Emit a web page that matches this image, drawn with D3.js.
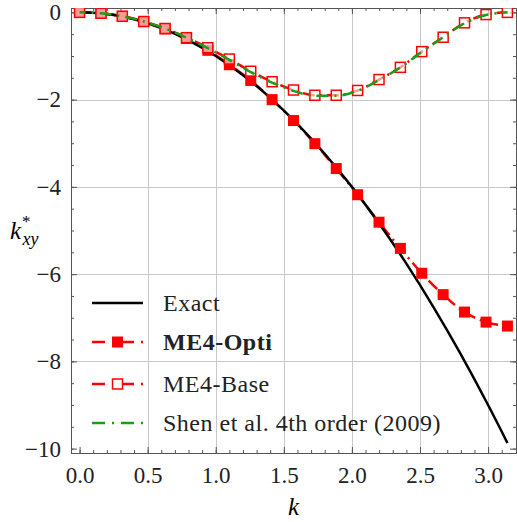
<!DOCTYPE html>
<html>
<head>
<meta charset="utf-8">
<script src="https://cdn.jsdelivr.net/npm/d3@7"></script>
<style>
  body { margin: 0; background: #fff; }
  text { font-family: "Liberation Serif", "Times New Roman", serif; }
</style>
</head>
<body>
<div id="chart"></div>
<script>
// sample wavenumbers (pi/20 steps)
const kPts = [0, 0.157, 0.314, 0.471, 0.628, 0.785, 0.942, 1.100, 1.257, 1.414,
  1.571, 1.728, 1.885, 2.042, 2.199, 2.356, 2.513, 2.670, 2.827, 2.985, 3.142];
const optiVals = [0, -0.02, -0.09, -0.21, -0.38, -0.6, -0.87, -1.2, -1.56, -2.0,
  -2.48, -3.01, -3.58, -4.18, -4.81, -5.41, -5.98, -6.47, -6.87, -7.10, -7.19];
const baseVals = [0, -0.02, -0.09, -0.21, -0.37, -0.58, -0.81, -1.07, -1.35, -1.59,
  -1.78, -1.90, -1.90, -1.79, -1.54, -1.26, -0.90, -0.57, -0.24, -0.05, 0];
const shenVals = [0, -0.02, -0.09, -0.21, -0.37, -0.58, -0.82, -1.09, -1.37, -1.61,
  -1.80, -1.91, -1.91, -1.80, -1.55, -1.26, -0.91, -0.57, -0.25, -0.06, 0];
// exact curve
const kExact = [0, 0.2, 0.4, 0.6, 0.8, 1.0, 1.2, 1.4, 1.6, 1.8, 2.0, 2.2, 2.4, 2.6, 2.8, 3.0, 3.142];
const exactVals = [0, -0.04, -0.16, -0.36, -0.64, -1.0, -1.44, -1.96, -2.56, -3.24,
  -4.0, -4.84, -5.76, -6.76, -7.84, -9.0, -9.87];

const xTicks = [0, 0.5, 1.0, 1.5, 2.0, 2.5, 3.0];
const yTicks = [0, -2, -4, -6, -8, -10];
const legendLabels = ["Exact", "ME4-Opti", "ME4-Base", "Shen et al. 4th order (2009)"];

const width = 517, height = 522;
const pL = 71, pR = 516, pT = 8, pB = 453;
const red = "#ff0000", green = "#1a9e1a";

const x = d3.scaleLinear().domain([-0.063, 3.205]).range([pL, pR]);
const y = d3.scaleLinear().domain([-10.1, 0.1]).range([pB, pT]);

const svg = d3.select("#chart").append("svg")
  .attr("width", width).attr("height", height);

svg.append("clipPath").attr("id", "clip")
  .append("rect").attr("x", pL).attr("y", pT)
  .attr("width", pR - pL).attr("height", pB - pT);

// grid
const grid = svg.append("g").attr("stroke", "#c8c8c8").attr("stroke-width", 1);
grid.selectAll(".gx").data(xTicks.filter(d => d > 0)).join("line")
  .attr("x1", d => Math.round(x(d)) + 0.5).attr("x2", d => Math.round(x(d)) + 0.5)
  .attr("y1", pT).attr("y2", pB);
grid.selectAll(".gy").data(yTicks.filter(d => d < 0 && d > -10)).join("line")
  .attr("y1", d => Math.round(y(d)) + 0.5).attr("y2", d => Math.round(y(d)) + 0.5)
  .attr("x1", pL).attr("x2", pR);

// axes (frame style, ticks inward)
const frameCol = "#555";
const minorX = d3.range(0, 3.15, 0.1);
const minorY = d3.range(0, -10.05, -0.5);
svg.append("g").attr("transform", `translate(0,${pB})`)
  .call(d3.axisBottom(x).tickValues(minorX).tickSize(-3).tickFormat(""));
svg.append("g").attr("transform", `translate(0,${pB})`)
  .call(d3.axisBottom(x).tickValues(xTicks).tickSize(-6).tickPadding(14)
    .tickFormat(d3.format(".1f")));
svg.append("g").attr("transform", `translate(0,${pT})`)
  .call(d3.axisTop(x).tickValues(minorX).tickSize(-3).tickFormat(""));
svg.append("g").attr("transform", `translate(0,${pT})`)
  .call(d3.axisTop(x).tickValues(xTicks).tickSize(-6).tickFormat(""));
svg.append("g").attr("transform", `translate(${pL},0)`)
  .call(d3.axisLeft(y).tickValues(minorY).tickSize(-3).tickFormat(""));
svg.append("g").attr("transform", `translate(${pL},0)`)
  .call(d3.axisLeft(y).tickValues(yTicks).tickSize(-6).tickPadding(10)
    .tickFormat(d => d === 0 ? "0" : "\u2212" + Math.abs(d)));
svg.append("g").attr("transform", `translate(${pR},0)`)
  .call(d3.axisRight(y).tickValues(minorY).tickSize(-3).tickFormat(""));
svg.append("g").attr("transform", `translate(${pR},0)`)
  .call(d3.axisRight(y).tickValues(yTicks).tickSize(-6).tickFormat(""));
svg.selectAll(".domain").attr("stroke", frameCol);
svg.selectAll(".tick line").attr("stroke", frameCol);
svg.selectAll(".tick text").style("font-size", "23px").attr("fill", "#222");

// series
const plot = svg.append("g").attr("clip-path", "url(#clip)");
const lineOf = (ks, vs, curve) => d3.line().curve(curve)
  .x((d, i) => x(ks[i])).y(d => y(d))(vs);
const dashDot = "12,5,2,5";

plot.append("path").attr("d", lineOf(kPts, optiVals, d3.curveMonotoneX))
  .attr("fill", "none").attr("stroke", red).attr("stroke-width", 2.5)
  .attr("stroke-dasharray", dashDot);
plot.append("path").attr("d", lineOf(kPts, baseVals, d3.curveMonotoneX))
  .attr("fill", "none").attr("stroke", red).attr("stroke-width", 2.5)
  .attr("stroke-dasharray", dashDot);
plot.append("path").attr("d", lineOf(kExact, exactVals, d3.curveNatural))
  .attr("fill", "none").attr("stroke", "#000").attr("stroke-width", 2.5);

plot.selectAll(".opti").data(optiVals).join("rect")
  .attr("x", (d, i) => x(kPts[i]) - 5.5).attr("y", d => y(d) - 5.5)
  .attr("width", 11).attr("height", 11).attr("fill", red);
plot.selectAll(".base").data(baseVals).join("rect")
  .attr("x", (d, i) => x(kPts[i]) - 5).attr("y", d => y(d) - 5)
  .attr("width", 10).attr("height", 10).attr("fill", "#fff")
  .attr("fill-opacity", 0.6)
  .attr("stroke", red).attr("stroke-width", 1.5);

plot.append("path").attr("d", lineOf(kPts, shenVals, d3.curveMonotoneX))
  .attr("fill", "none").attr("stroke", green).attr("stroke-width", 2.5)
  .attr("stroke-dasharray", "12,6,2,6").attr("stroke-dashoffset", 6);

// legend
const legY = [303, 342, 384, 423];
const lx0 = 92, lx1 = 143, lmid = 117.5;
const leg = svg.append("g");
leg.append("line").attr("x1", lx0).attr("x2", lx1).attr("y1", legY[0]).attr("y2", legY[0])
  .attr("stroke", "#000").attr("stroke-width", 2.5);
[1, 2].forEach(j => {
  leg.append("line").attr("x1", lx0).attr("x2", lx1).attr("y1", legY[j]).attr("y2", legY[j])
    .attr("stroke", red).attr("stroke-width", 2.5).attr("stroke-dasharray", "13,7,2,7");
});
leg.append("rect").attr("x", lmid - 5.5).attr("y", legY[1] - 5.5)
  .attr("width", 11).attr("height", 11).attr("fill", red);
leg.append("rect").attr("x", lmid - 5).attr("y", legY[2] - 5)
  .attr("width", 10).attr("height", 10).attr("fill", "#fff")
  .attr("stroke", red).attr("stroke-width", 1.5);
leg.append("line").attr("x1", lx0).attr("x2", lx1).attr("y1", legY[3]).attr("y2", legY[3])
  .attr("stroke", green).attr("stroke-width", 2.5).attr("stroke-dasharray", "13,7,2,7");
leg.selectAll("text.lab").data(legendLabels).join("text")
  .attr("x", 163).attr("y", (d, i) => legY[i] + 8)
  .attr("font-size", 24).attr("letter-spacing", 0.5).attr("fill", "#222")
  .attr("font-weight", (d, i) => i === 1 ? "bold" : "normal")
  .text(d => d);

// axis labels
svg.append("text").attr("x", (pL + pR) / 2).attr("y", 515)
  .attr("text-anchor", "middle").attr("font-size", 25).attr("font-style", "italic")
  .text("k");
const yl = svg.append("text").attr("x", 10).attr("y", 239)
  .attr("font-size", 25).attr("font-style", "italic");
yl.append("tspan").text("k");
yl.append("tspan").attr("dy", -12).attr("dx", 1).attr("font-size", 17).attr("font-style", "normal").text("*");
yl.append("tspan").attr("dy", 18).attr("dx", -8).attr("font-size", 18).text("xy");
</script>
</body>
</html>
